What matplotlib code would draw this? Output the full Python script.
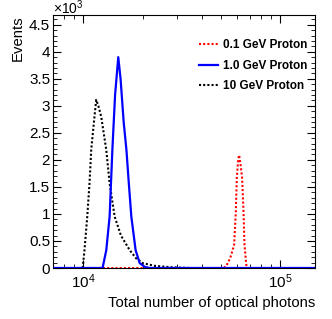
import matplotlib
matplotlib.use('Agg')
import matplotlib.pyplot as plt
from matplotlib.ticker import LogLocator, MultipleLocator, FuncFormatter, NullFormatter

plt.rcParams['font.family'] = ['Liberation Sans', 'DejaVu Sans']
plt.rcParams['mathtext.fontset'] = 'custom'
plt.rcParams['mathtext.rm'] = 'Liberation Sans'
plt.rcParams['mathtext.it'] = 'Liberation Sans'

# histogram contents (photons, events)
x_red = [7000, 51200, 53000, 55600, 56900, 58250, 59400, 60100, 61050, 61750,
         62860, 63980, 65000, 65750, 66800, 67400, 150000]
y_red = [0, 0, 30, 180, 300, 430, 1040, 1660, 2000, 2090,
         1900, 1660, 1040, 430, 150, 0, 0]

x_blue = [7000, 12500, 13055, 13573, 14020, 14470, 15020, 15430, 16000, 16520,
          16990, 17500, 18400, 19300, 20500, 21700, 150000]
y_blue = [0, 0, 330, 950, 2190, 3200, 3900, 3500, 2700, 2190,
          1570, 950, 330, 90, 20, 0, 0]

x_black = [9900, 10100, 10450, 10730, 10950, 11300, 11600, 11900, 12300, 13050,
           13570, 14400, 15500, 17170, 18500, 20000, 23000, 27500, 32000, 35000]
y_black = [0, 300, 950, 1570, 2190, 2700, 3110, 3000, 2800, 2190,
           1570, 950, 600, 330, 180, 90, 40, 15, 5, 0]

labels = ['0.1 GeV Proton', '1.0 GeV Proton', '10 GeV Proton']

fig = plt.figure(figsize=(3.32, 3.19), dpi=100)
ax = fig.add_axes([53/332, 1-268/319, (315-53)/332, (268-15)/319])

l_red, = ax.plot(x_red, y_red, color='red', lw=1.5, ls=(0, (1, 1)), zorder=2)
l_black, = ax.plot(x_black, y_black, color='black', lw=1.5, ls=(0, (1, 1)), zorder=3)
l_blue, = ax.plot(x_blue, y_blue, color='blue', lw=1.6, zorder=4)

ax.set_xscale('log')
ax.set_xlim(7000, 150000)
ax.set_ylim(0, 4680)

ax.xaxis.set_major_locator(LogLocator(base=10))
ax.xaxis.set_minor_locator(LogLocator(base=10, subs=range(2, 10)))
ax.xaxis.set_minor_formatter(NullFormatter())
ax.yaxis.set_major_locator(MultipleLocator(500))
ax.yaxis.set_minor_locator(MultipleLocator(100))
ax.yaxis.set_major_formatter(FuncFormatter(lambda v, p: '%g' % (v / 1000)))

ax.tick_params(which='both', direction='in', top=True, right=True, labelsize=11)
ax.tick_params(axis='y', which='major', length=6, pad=2)
ax.tick_params(axis='y', which='minor', length=3)
ax.tick_params(axis='x', which='major', length=6, pad=3)
ax.tick_params(axis='x', which='minor', length=3)

ax.text(0, 1.002, r'$\times10^{3}$', transform=ax.transAxes, ha='left', va='baseline', fontsize=10)

ax.set_xlabel('Total number of optical photons', fontsize=10.7, loc='right', labelpad=4)
ax.set_ylabel('Events', fontsize=10.7, loc='top', labelpad=3)

ax.legend([l_red, l_blue, l_black], labels, loc='upper right', frameon=False,
          prop={'weight': 'bold', 'size': 8.5}, handlelength=1.6, handletextpad=0.4,
          labelspacing=0.75, bbox_to_anchor=(1.01, 0.948))

fig.savefig('out.png', dpi=100)
